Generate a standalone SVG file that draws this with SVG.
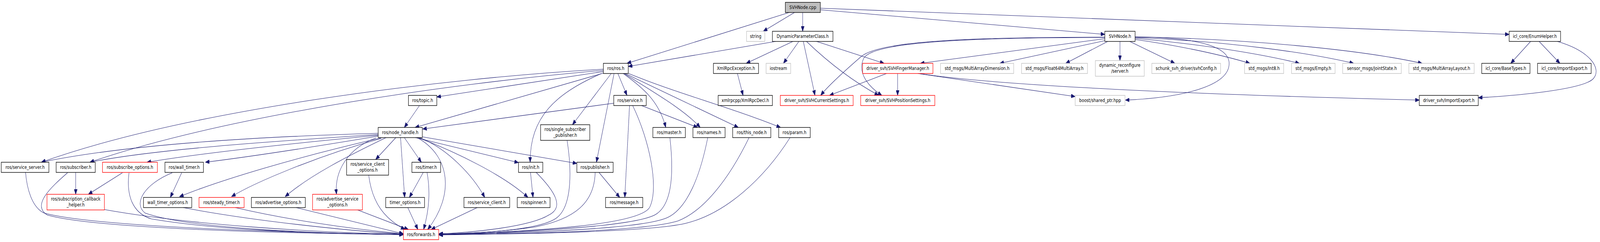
<svg xmlns="http://www.w3.org/2000/svg" width="5073" height="619" viewBox="0 0 5073 619" preserveAspectRatio="none">
<style>
svg:root{width:100vw;height:100vh}
.n rect{fill:#fff;stroke:#000;stroke-width:1.4}
.r rect{stroke:#ff0000}
.g rect{stroke:#bfbfbf}
.s rect{fill:#bfbfbf}
text{font-family:"DejaVu Sans","Liberation Sans",sans-serif;font-size:12.5px;text-anchor:middle;fill:#000}
.e path{fill:none;stroke:#191970;stroke-width:1.05;marker-end:url(#a)}
</style>
<defs>
<marker id="a" markerWidth="13" markerHeight="10" refX="13" refY="5" orient="auto" markerUnits="userSpaceOnUse"><path d="M0,0 L13,5 L0,10 z" fill="#191970" stroke="#191970" stroke-width="1"/></marker>
</defs>
<rect x="0" y="0" width="5073" height="619" fill="#fff"/>
<g id="edges" class="e">
<path d="M2502,32 L1988,162"/>
<path d="M2519,32 L2420,80"/>
<path d="M2545,32 L2545,80"/>
<path d="M2601,25 L3503,88"/>
<path d="M2601,21 L4785,88"/>
<path d="M2459,106 L1992,170"/>
<path d="M2514,106 L2366,162"/>
<path d="M2533,106 L2484,162"/>
<path d="M2547,106 L2584,244"/>
<path d="M2557,106 C2640,170 2720,215 2786,244"/>
<path d="M2589,106 L2803,162"/>
<path d="M3503,99 L2918,162"/>
<path d="M3503,104 L3170,162"/>
<path d="M3512,106 L3379,162"/>
<path d="M3551,106 L3551,155"/>
<path d="M3582,106 L3725,162"/>
<path d="M3599,101 C3750,118 3880,142 3963,162"/>
<path d="M3599,98 C3800,112 4000,138 4120,162"/>
<path d="M3599,96 C3900,106 4150,135 4292,162"/>
<path d="M3599,94 C3950,100 4300,125 4509,162"/>
<path d="M3599,95 C3800,95 3900,120 3897,164 C3895,220 3750,250 3568,256"/>
<path d="M3503,95 C3000,95 2780,110 2730,145 C2680,180 2625,220 2602,244"/>
<path d="M3503,96 C3000,96 2760,112 2738,150 C2716,190 2760,225 2796,244"/>
<path d="M2811,188 L2630,244"/>
<path d="M2846,188 L2846,244"/>
<path d="M2910,188 L3409,247"/>
<path d="M2915,188 C3100,212 3600,238 4500,256"/>
<path d="M4853,106 L4790,162"/>
<path d="M4880,106 L4946,162"/>
<path d="M4938,106 C5040,130 5080,175 5052,201 C5020,230 4800,245 4687,250"/>
<path d="M2338,188 L2356,244"/>
<path d="M1913,183 L1385,248"/>
<path d="M1913,187 L1316,326"/>
<path d="M1913,177 C1400,200 600,280 131,415"/>
<path d="M1913,180 C1400,215 700,300 285,415"/>
<path d="M1938,188 L1815,319"/>
<path d="M1947,188 L1891,415"/>
<path d="M1907,188 C1760,240 1680,300 1681,415"/>
<path d="M1959,188 L1988,244"/>
<path d="M1976,188 C2040,225 2090,260 2111,326"/>
<path d="M1979,188 C2060,230 2170,280 2220,326"/>
<path d="M1982,188 L2341,326"/>
<path d="M1993,188 C2150,240 2300,270 2475,326"/>
<path d="M1946,264 L1340,330"/>
<path d="M2034,270 L2212,326"/>
<path d="M1996,270 L1981,505"/>
<path d="M2006,270 C2060,360 2090,480 2060,530 C2030,575 1700,592 1391,600"/>
<path d="M1330,270 L1282,326"/>
<path d="M1798,359 C1810,420 1820,530 1760,560 C1700,590 1500,597 1391,599"/>
<path d="M1899,441 L1965,505"/>
<path d="M1887,441 C1885,520 1820,560 1700,580 C1600,593 1480,597 1391,599"/>
<path d="M2124,352 C2135,430 2135,520 2080,548 C2020,578 1700,593 1391,600"/>
<path d="M2244,352 C2220,450 2180,530 2120,555 C2050,585 1700,595 1391,600"/>
<path d="M2375,352 C2310,460 2230,540 2150,565 C2050,590 1700,598 1391,600"/>
<path d="M2505,352 C2420,460 2300,545 2180,570 C2080,592 1700,598 1391,601"/>
<path d="M1682,441 L1690,505"/>
<path d="M1700,441 C1760,490 1790,530 1740,550 C1680,580 1500,595 1391,598"/>
<path d="M1513,531 L1367,587"/>
<path d="M1323,352 C1430,400 1440,500 1356,587"/>
<path d="M1354,441 C1365,490 1360,540 1343,587"/>
<path d="M1342,441 L1298,505"/>
<path d="M1293,531 L1325,587"/>
<path d="M1169,448 C1180,520 1220,560 1284,587"/>
<path d="M1134,537 L1295,587"/>
<path d="M939,531 L1279,598"/>
<path d="M746,531 C900,560 1100,585 1279,598"/>
<path d="M581,531 C800,565 1100,590 1279,599"/>
<path d="M331,536 C600,575 1000,595 1279,599"/>
<path d="M81,441 C85,480 100,530 140,545 C300,580 900,595 1279,600"/>
<path d="M214,442 C160,480 100,525 150,550 C300,585 900,597 1279,600"/>
<path d="M409,442 C400,500 420,545 480,560 C700,590 1000,597 1279,600"/>
<path d="M546,442 C460,470 420,520 460,545 C600,585 1000,597 1279,600"/>
<path d="M240,441 L240,497"/>
<path d="M388,442 L280,497"/>
<path d="M576,442 L540,505"/>
<path d="M1199,341 C800,350 400,370 131,415"/>
<path d="M1199,344 C900,360 500,380 285,415"/>
<path d="M1199,346 C950,365 650,390 466,415"/>
<path d="M1200,348 C1000,375 800,400 651,415"/>
<path d="M1207,353 C950,400 700,460 569,503"/>
<path d="M1209,354 C1000,400 800,470 734,503"/>
<path d="M1224,352 C1100,400 980,450 904,503"/>
<path d="M1192,353 C1100,380 1060,440 1067,497"/>
<path d="M1255,352 L1191,408"/>
<path d="M1270,352 L1283,505"/>
<path d="M1282,352 L1336,415"/>
<path d="M1330,352 C1420,380 1500,450 1537,505"/>
<path d="M1326,352 C1450,390 1600,450 1674,505"/>
<path d="M1317,352 L1644,416"/>
<path d="M1339,350 L1829,418"/>
</g>
<g id="n_cpp" class="n s"><rect x="2490" y="6" width="111" height="26"/><text x="2545.5" y="23">SVHNode.cpp</text></g>
<g id="n_string" class="n g"><rect x="2367" y="80" width="58" height="26"/><text x="2396" y="97">string</text></g>
<g id="n_dyn" class="n"><rect x="2449" y="80" width="192" height="26"/><text x="2545" y="97">DynamicParameterClass.h</text></g>
<g id="n_svhnode" class="n"><rect x="3503" y="80" width="96" height="26"/><text x="3551" y="97">SVHNode.h</text></g>
<g id="n_enumhelper" class="n"><rect x="4785" y="80" width="163" height="26"/><text x="4866.5" y="97">icl_core/EnumHelper.h</text></g>
<g id="n_ros" class="n"><rect x="1913" y="162" width="79" height="26"/><text x="1952.5" y="179">ros/ros.h</text></g>
<g id="n_xmlexc" class="n"><rect x="2262" y="162" width="143" height="26"/><text x="2333.5" y="179">XmlRpcException.h</text></g>
<g id="n_iostream" class="n g"><rect x="2429" y="162" width="78" height="26"/><text x="2468" y="179">iostream</text></g>
<g id="n_finger" class="n r"><rect x="2735" y="162" width="223" height="26"/><text x="2846.5" y="179">driver_svh/SVHFingerManager.h</text></g>
<g id="n_mad" class="n g"><rect x="2982" y="162" width="232" height="26"/><text x="3098" y="179">std_msgs/MultiArrayDimension.h</text></g>
<g id="n_f64" class="n g"><rect x="3239" y="162" width="209" height="26"/><text x="3343.5" y="179">std_msgs/Float64MultiArray.h</text></g>
<g id="n_dynrec" class="n g"><rect x="3473" y="155" width="155" height="40"/><text x="3550.5" y="171">dynamic_reconfigure</text><text x="3550.5" y="186">/server.h</text></g>
<g id="n_svhconfig" class="n g"><rect x="3652" y="162" width="218" height="26"/><text x="3761" y="179">schunk_svh_driver/svhConfig.h</text></g>
<g id="n_int8" class="n g"><rect x="3946" y="162" width="124" height="26"/><text x="4008" y="179">std_msgs/Int8.h</text></g>
<g id="n_empty" class="n g"><rect x="4095" y="162" width="138" height="26"/><text x="4164" y="179">std_msgs/Empty.h</text></g>
<g id="n_joint" class="n g"><rect x="4257" y="162" width="186" height="26"/><text x="4350" y="179">sensor_msgs/JointState.h</text></g>
<g id="n_mal" class="n g"><rect x="4467" y="162" width="207" height="26"/><text x="4570.5" y="179">std_msgs/MultiArrayLayout.h</text></g>
<g id="n_basetypes" class="n"><rect x="4698" y="162" width="153" height="26"/><text x="4774.5" y="179">icl_core/BaseTypes.h</text></g>
<g id="n_iclie" class="n"><rect x="4875" y="162" width="170" height="26"/><text x="4960" y="179">icl_core/ImportExport.h</text></g>
<g id="n_topic" class="n"><rect x="1295" y="244" width="90" height="26"/><text x="1340" y="261">ros/topic.h</text></g>
<g id="n_service" class="n"><rect x="1946" y="244" width="103" height="26"/><text x="1997.5" y="261">ros/service.h</text></g>
<g id="n_xmldecl" class="n"><rect x="2277" y="244" width="172" height="26"/><text x="2363" y="261">xmlrpcpp/XmlRpcDecl.h</text></g>
<g id="n_cur" class="n r"><rect x="2474" y="244" width="231" height="26"/><text x="2589.5" y="261">driver_svh/SVHCurrentSettings.h</text></g>
<g id="n_pos" class="n r"><rect x="2729" y="244" width="235" height="26"/><text x="2846.5" y="261">driver_svh/SVHPositionSettings.h</text></g>
<g id="n_boost" class="n g"><rect x="3409" y="244" width="158" height="26"/><text x="3488" y="261">boost/shared_ptr.hpp</text></g>
<g id="n_svhie" class="n"><rect x="4500" y="244" width="187" height="26"/><text x="4593.5" y="261">driver_svh/ImportExport.h</text></g>
<g id="n_nh" class="n"><rect x="1199" y="326" width="140" height="26"/><text x="1269" y="343">ros/node_handle.h</text></g>
<g id="n_ssp" class="n"><rect x="1714" y="319" width="156" height="40"/><text x="1792" y="335">ros/single_subscriber</text><text x="1792" y="350">_publisher.h</text></g>
<g id="n_master" class="n"><rect x="2070" y="326" width="103" height="26"/><text x="2121.5" y="343">ros/master.h</text></g>
<g id="n_names" class="n"><rect x="2197" y="326" width="102" height="26"/><text x="2248" y="343">ros/names.h</text></g>
<g id="n_thisnode" class="n"><rect x="2323" y="326" width="121" height="26"/><text x="2383.5" y="343">ros/this_node.h</text></g>
<g id="n_param" class="n"><rect x="2469" y="326" width="100" height="26"/><text x="2519" y="343">ros/param.h</text></g>
<g id="n_ss" class="n"><rect x="4" y="415" width="151" height="26"/><text x="79.5" y="432">ros/service_server.h</text></g>
<g id="n_sub" class="n"><rect x="178" y="415" width="124" height="26"/><text x="240" y="432">ros/subscriber.h</text></g>
<g id="n_subopt" class="n r"><rect x="325" y="415" width="174" height="26"/><text x="412" y="432">ros/subscribe_options.h</text></g>
<g id="n_wt" class="n"><rect x="523" y="415" width="122" height="26"/><text x="584" y="432">ros/wall_timer.h</text></g>
<g id="n_sco" class="n"><rect x="1099" y="408" width="133" height="40"/><text x="1165.5" y="424">ros/service_client</text><text x="1165.5" y="439">_options.h</text></g>
<g id="n_timer" class="n"><rect x="1306" y="415" width="91" height="26"/><text x="1351.5" y="432">ros/timer.h</text></g>
<g id="n_init" class="n"><rect x="1644" y="415" width="77" height="26"/><text x="1682.5" y="432">ros/init.h</text></g>
<g id="n_pub" class="n"><rect x="1829" y="415" width="115" height="26"/><text x="1886.5" y="432">ros/publisher.h</text></g>
<g id="n_sch" class="n r"><rect x="149" y="497" width="182" height="40"/><text x="240" y="513">ros/subscription_callback</text><text x="240" y="528">_helper.h</text></g>
<g id="n_wto" class="n"><rect x="455" y="505" width="153" height="26"/><text x="531.5" y="522">wall_timer_options.h</text></g>
<g id="n_steady" class="n r"><rect x="631" y="505" width="143" height="26"/><text x="702.5" y="522">ros/steady_timer.h</text></g>
<g id="n_advopt" class="n"><rect x="797" y="505" width="171" height="26"/><text x="882.5" y="522">ros/advertise_options.h</text></g>
<g id="n_aso" class="n r"><rect x="991" y="497" width="158" height="40"/><text x="1070" y="513">ros/advertise_service</text><text x="1070" y="528">_options.h</text></g>
<g id="n_timeropt" class="n"><rect x="1223" y="505" width="123" height="26"/><text x="1284.5" y="522">timer_options.h</text></g>
<g id="n_svcclient" class="n"><rect x="1471" y="505" width="145" height="26"/><text x="1543.5" y="522">ros/service_client.h</text></g>
<g id="n_spinner" class="n"><rect x="1640" y="505" width="104" height="26"/><text x="1692" y="522">ros/spinner.h</text></g>
<g id="n_message" class="n"><rect x="1920" y="505" width="118" height="26"/><text x="1979" y="522">ros/message.h</text></g>
<g id="n_forwards" class="n r"><rect x="1279" y="587" width="112" height="26"/><text x="1335" y="604">ros/forwards.h</text></g>
</svg>
